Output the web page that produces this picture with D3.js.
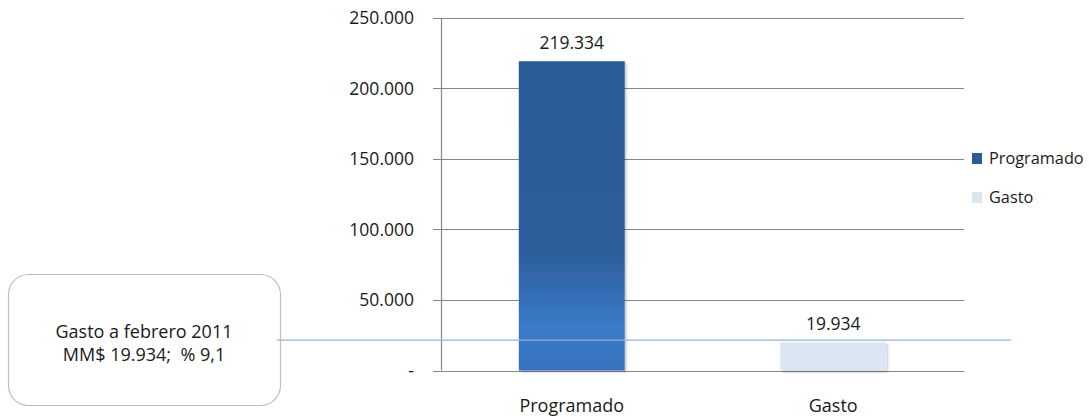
<!DOCTYPE html>
<html><head><meta charset="utf-8">
<script src="https://cdn.jsdelivr.net/npm/d3@7"></script>
<style>body{margin:0;background:#fff}svg{display:block}text{font-family:"Open Sans",sans-serif;fill:#1a1a1a;white-space:pre}</style>
</head><body>
<svg id="c" width="1089" height="417"></svg>
<script>
const categories = ["Programado", "Gasto"];
const values = [219334, 19934];
const yTicks = [0, 50000, 100000, 150000, 200000, 250000];
const tickLabels = ["-", "50.000", "100.000", "150.000", "200.000", "250.000"];
const valueLabels = ["219.334", "19.934"];
const annotationLines = ["Gasto a febrero 2011", "MM$ 19.934;  % 9,1"];
const annotationValue = 21500;

const svg = d3.select("#c");
const pL = 441, pR = 964, pT = 18, pB = 370.5;
const x = d3.scaleBand().domain(categories).range([pL, pR]).padding(0);
const y = d3.scaleLinear().domain([0, 250000]).range([pB, pT]);
const barW = x.bandwidth() * 0.405;

const defs = svg.append("defs");
const g1 = defs.append("linearGradient").attr("id","gp").attr("x1",0).attr("y1",0).attr("x2",0).attr("y2",1);
[[0,"#2c5b96"],[0.62,"#2d5e9c"],[0.86,"#3a7bc9"],[1,"#3672bd"]].forEach(s=>g1.append("stop").attr("offset",s[0]).attr("stop-color",s[1]));
const fills = ["url(#gp)", "#dce6f2"];
const legendFills = ["#2c5c97", "#dce6f2"];
const filt = defs.append("filter").attr("id","sh").attr("x","-10%").attr("y","-10%").attr("width","130%").attr("height","130%");
filt.append("feDropShadow").attr("dx",1.5).attr("dy",1.5).attr("stdDeviation",1.2).attr("flood-color","#000").attr("flood-opacity",0.25);

// gridlines
svg.append("g").selectAll("line").data(yTicks).join("line")
  .attr("x1", pL - 8).attr("x2", pR)
  .attr("y1", d => Math.round(y(d)) + 0.5).attr("y2", d => Math.round(y(d)) + 0.5)
  .attr("stroke", "#868686").attr("stroke-width", 1.2);
// y axis line
svg.append("line").attr("x1", pL + 0.5).attr("x2", pL + 0.5).attr("y1", y(250000)).attr("y2", y(0))
  .attr("stroke", "#868686").attr("stroke-width", 1.2);
// tick labels
svg.append("g").selectAll("text").data(yTicks).join("text")
  .attr("x", 414).attr("y", d => y(d)).attr("dy", "0.35em").attr("text-anchor", "end")
  .style("font-size", "17.5px").text((d, i) => tickLabels[i]);

// bars
svg.append("g").selectAll("rect").data(values).join("rect")
  .attr("x", (d, i) => x(categories[i]) + x.bandwidth() / 2 - barW / 2)
  .attr("width", barW)
  .attr("y", d => y(d)).attr("height", d => y(0) - y(d))
  .attr("fill", (d, i) => fills[i]).attr("filter", "url(#sh)");

// value labels
svg.append("g").selectAll("text").data(values).join("text")
  .attr("x", (d, i) => x(categories[i]) + x.bandwidth() / 2)
  .attr("y", d => y(d) - 18.5).attr("dy", "0.35em").attr("text-anchor", "middle")
  .style("font-size", "17.5px").text((d, i) => valueLabels[i]);

// x labels
svg.append("g").selectAll("text").data(categories).join("text")
  .attr("x", d => x(d) + x.bandwidth() / 2).attr("y", 406).attr("dy", "0.35em")
  .attr("text-anchor", "middle").style("font-size", "18px").text(d => d);

// annotation box
svg.append("rect").attr("x", 8.5).attr("y", 274.5).attr("width", 272).attr("height", 131)
  .attr("rx", 20).attr("ry", 20).attr("fill", "#fff").attr("stroke", "#bfbfbf").attr("stroke-width", 1.2);
svg.append("g").selectAll("text").data(annotationLines).join("text")
  .attr("x", 144).attr("y", (d, i) => 331.5 + i * 23.5).attr("dy", "0.35em").attr("text-anchor", "middle")
  .style("font-size", "18px").text(d => d);
// annotation line
svg.append("line").attr("x1", 277).attr("x2", 1011)
  .attr("y1", y(annotationValue)).attr("y2", y(annotationValue))
  .attr("stroke", "#95b3d7").attr("stroke-width", 1.3);

// legend
const lg = svg.append("g").selectAll("g").data(categories).join("g")
  .attr("transform", (d, i) => `translate(972, ${153 + i * 39})`);
lg.append("rect").attr("width", 10).attr("height", 11).attr("fill", (d, i) => legendFills[i]);
lg.append("text").attr("x", 17).attr("y", 5.5).attr("dy", "0.35em").style("font-size", "16.3px").text(d => d);
</script>
</body></html>
